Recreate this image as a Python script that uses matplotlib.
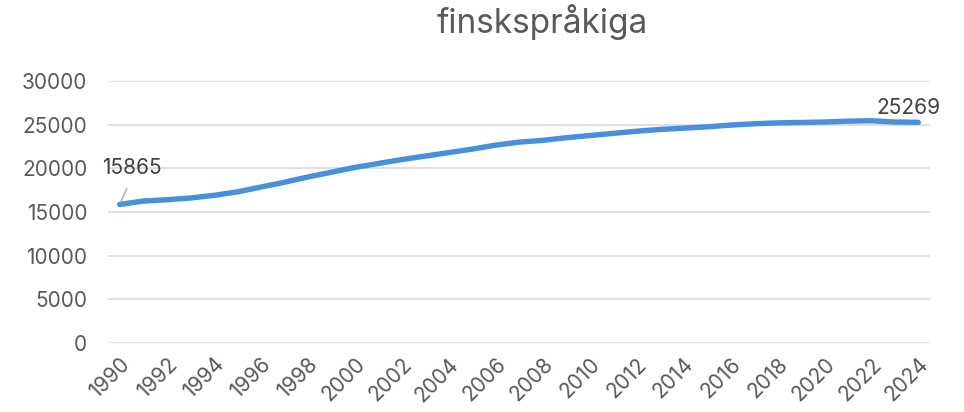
import matplotlib
matplotlib.use('Agg')
import matplotlib.pyplot as plt

# data
years = list(range(1990, 2025))
values = [15865, 16250, 16400, 16600, 16900, 17300, 17850, 18400, 19000, 19550,
          20100, 20550, 21000, 21400, 21800, 22200, 22650, 23000, 23200, 23500,
          23750, 24000, 24250, 24450, 24600, 24750, 24950, 25100, 25200, 25250,
          25300, 25400, 25450, 25300, 25269]
tick_years = list(range(1990, 2025, 2))
y_ticks = [0, 5000, 10000, 15000, 20000, 25000, 30000]
title = 'finskspråkiga'

plt.rcParams['font.family'] = ['Inter', 'DejaVu Sans']
text_color = '#595959'

fig = plt.figure(figsize=(9.64, 4.12), dpi=100)
ax = fig.add_axes([108 / 964, 69 / 412, 822 / 964, 262 / 412])

ax.plot(years, values, color='#4A8FDA', linewidth=3.9, solid_capstyle='round',
        solid_joinstyle='round', zorder=3)

ax.set_xlim(1989.5, 2024.5)
ax.set_ylim(0, 30000)
ax.set_yticks(y_ticks)
ax.set_yticklabels([str(v) for v in y_ticks])
ax.set_xticks(tick_years)
ax.set_xticklabels([str(y) for y in tick_years], rotation=45, ha='right',
                   rotation_mode='anchor')

ax.grid(axis='y', color='#D9D9D9', linewidth=1.2)
ax.set_axisbelow(True)
for s in ax.spines.values():
    s.set_visible(False)
ax.tick_params(length=0, labelsize=15, colors=text_color)
ax.tick_params(axis='y', pad=15)
ax.tick_params(axis='x', pad=8)

# end-point labels
ax.annotate(str(values[0]), xy=(years[0], values[0]), xytext=(-13, 19),
            textcoords='offset points', fontsize=15, color='#404040',
            ha='left', va='bottom',
            arrowprops=dict(arrowstyle='-', color='#A6A6A6', linewidth=1,
                            relpos=(0.5, 0), shrinkA=6, shrinkB=2))
ax.annotate(str(values[-1]), xy=(years[-1], values[-1]), xytext=(-30, 3),
            textcoords='offset points', fontsize=15, color='#404040',
            ha='left', va='bottom')

fig.suptitle(title, x=542 / 964, y=0.99, fontsize=24, color=text_color,
             va='top')

fig.savefig('out.png', dpi=100)
